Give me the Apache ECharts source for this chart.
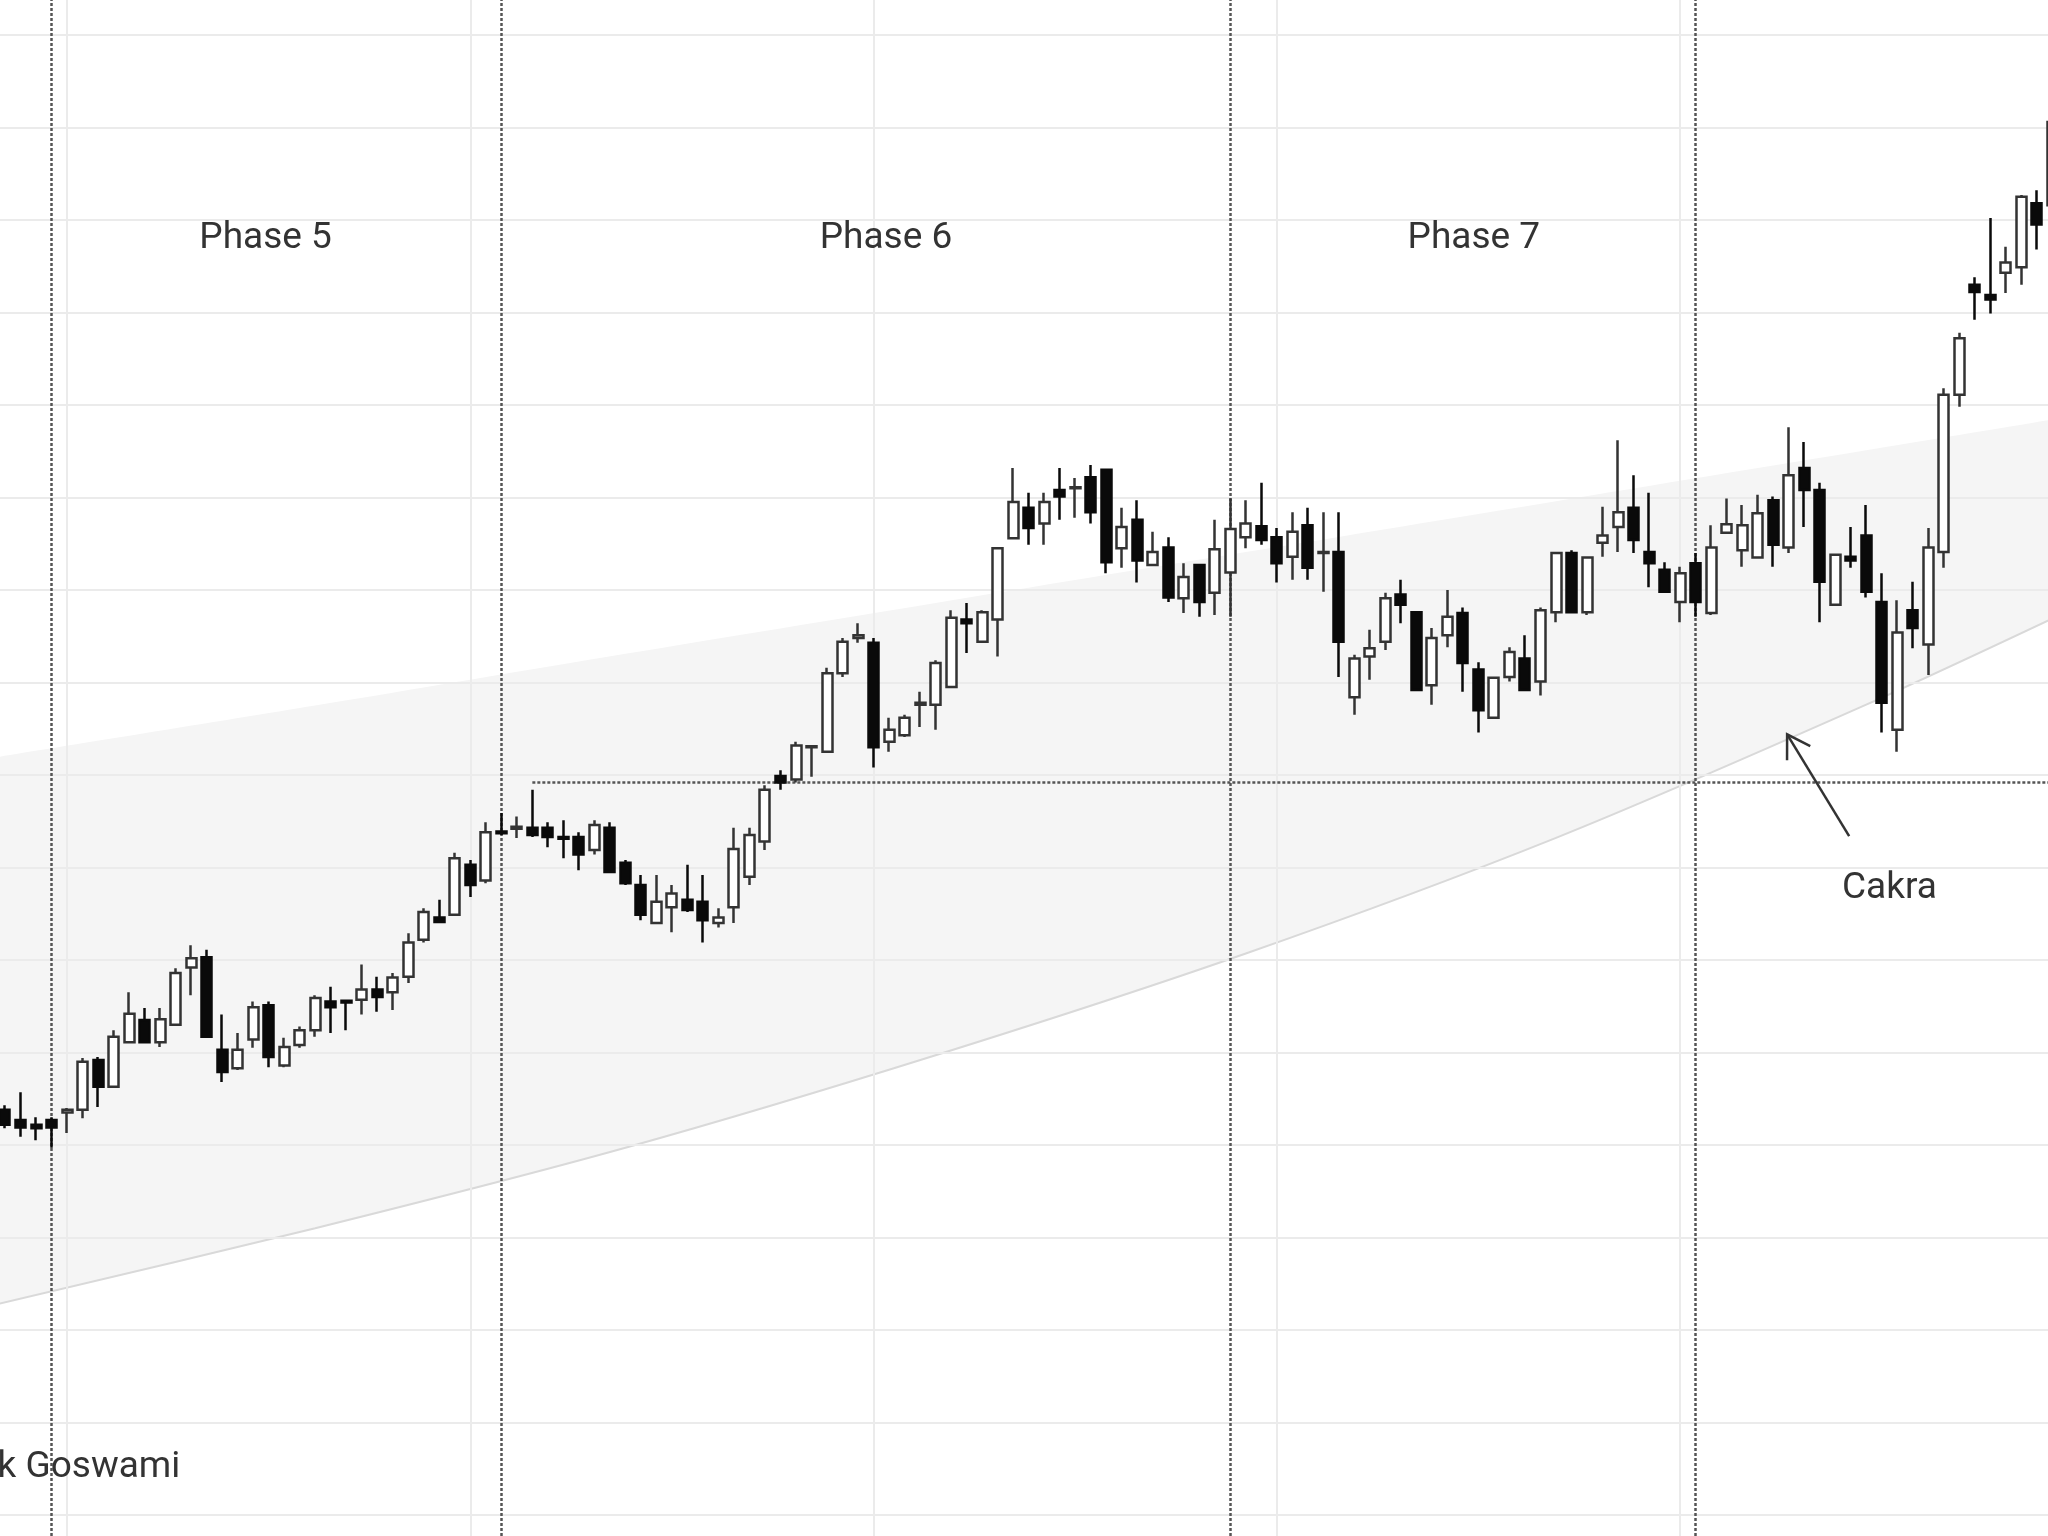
<!DOCTYPE html>
<html>
<head>
<meta charset="utf-8">
<script src="https://cdn.jsdelivr.net/npm/echarts@6/dist/echarts.min.js"></script>
<style>
html,body{margin:0;padding:0;background:#fff;}
#c{width:2048px;height:1536px;}
</style>
</head>
<body>
<div id="c"></div>
<script>
// ---- data ----
const opens = [53.8,52.7,52.2,52.7,53.5,53.8,59.2,56.3,61.1,63.5,61.1,63.0,69.2,70.3,60.3,58.3,61.4,65.1,58.6,60.8,
62.4,65.5,65.6,65.7,66.8,66.5,68.2,72.2,74.6,74.9,80.3,78.6,83.9,84.2,84.3,84.3,83.3,83.3,81.9,84.3,
80.5,78.1,74.0,75.7,76.5,76.3,74.0,75.7,79.0,82.8,89.9,89.5,93.0,92.5,101.0,104.8,104.3,93.6,94.3,97.6,
97.6,99.5,106.8,104.4,106.8,115.6,118.9,117.2,120.8,121.0,122.2,123.0,114.5,117.6,112.7,114.6,109.1,112.7,109.7,111.9,
115.7,116.9,115.7,113.6,117.0,114.0,114.1,98.4,102.8,104.4,109.5,107.6,99.7,105.1,107.5,101.4,96.2,100.6,102.6,100.1,
107.6,114.0,107.6,115.1,116.8,118.9,114.1,112.2,108.7,112.9,107.5,116.2,114.3,113.5,119.7,114.6,123.2,120.8,108.4,113.6,
115.9,108.7,94.9,107.8,104.1,114.1,131.1,143.0,141.9,144.3,144.9,151.8,151.6];
const closes = [52.2,51.9,51.8,51.9,53.8,59.0,56.3,61.7,64.2,61.1,63.6,68.6,70.2,61.7,57.9,60.3,64.9,59.5,60.6,62.4,
65.9,64.9,65.4,66.8,66.0,68.1,71.9,75.2,74.1,81.0,78.1,83.8,83.7,84.4,83.5,83.3,83.1,81.4,84.6,79.5,
78.3,74.9,76.3,77.2,75.4,74.3,74.6,82.0,83.5,88.4,89.2,93.2,93.1,101.0,104.4,105.1,93.0,94.9,96.2,97.8,
102.1,107.0,106.4,107.6,114.5,119.5,116.7,119.5,120.1,121.1,118.4,113.0,116.8,113.2,114.1,109.2,111.4,108.7,114.4,116.6,
117.2,115.4,112.9,116.3,112.4,114.1,104.4,102.6,103.7,109.1,108.4,99.2,104.8,107.1,102.1,97.0,100.5,103.3,99.2,107.8,
114.0,107.6,113.5,115.9,118.4,115.4,112.9,109.8,111.8,108.7,114.6,117.1,117.0,118.3,114.9,122.4,120.8,110.9,113.8,113.2,
109.8,97.8,105.4,105.9,114.6,131.1,137.2,142.2,141.4,145.4,152.5,149.5,160.6];
const lows = [51.8,50.9,50.5,49.7,51.3,52.9,54.1,56.2,61.0,61.0,60.6,63.0,66.2,61.6,56.8,58.1,60.5,58.4,58.4,60.5,
61.7,62.1,62.4,64.1,64.4,64.6,67.5,71.9,74.1,74.9,76.8,78.3,83.5,83.2,83.3,82.2,81.0,79.7,81.4,79.4,
78.1,74.3,74.0,73.0,75.2,71.9,73.5,74.0,78.1,81.9,88.4,89.2,89.8,92.4,100.6,104.3,90.8,92.5,94.1,95.2,
94.9,99.4,103.2,104.3,102.8,115.6,114.9,114.9,117.6,117.8,117.2,111.8,112.4,110.8,112.7,108.7,107.5,107.1,107.3,107.1,
114.5,114.9,110.8,111.1,111.1,109.8,100.6,96.5,100.3,103.5,106.4,99.2,97.6,103.8,99.0,94.6,96.2,100.1,99.2,98.6,
106.5,107.6,107.3,113.6,114.1,114.0,110.3,109.8,106.5,107.1,107.3,116.2,112.5,113.5,112.5,114.0,116.8,106.5,108.4,112.4,
109.2,94.6,92.5,103.7,100.8,112.4,129.8,139.2,139.9,142.1,143.0,146.8,149.2];
const highs = [54.3,55.7,53.0,53.0,54.0,59.4,59.5,62.4,66.5,64.8,64.8,69.1,71.6,71.1,64.1,62.1,65.5,65.5,61.6,62.8,
66.2,67.1,65.7,69.5,68.2,68.6,72.9,75.6,76.5,81.6,80.8,84.9,85.9,85.5,88.4,84.9,85.1,83.8,85.1,84.9,
80.8,79.2,79.2,78.1,80.3,79.2,75.6,84.3,84.3,88.9,90.5,93.6,93.2,101.6,104.8,106.4,104.8,96.2,96.5,99.0,
102.4,107.8,108.6,107.8,114.6,123.2,120.5,120.5,123.2,122.1,123.5,123.0,118.9,119.7,116.3,115.7,112.9,112.7,117.6,119.9,
119.7,121.6,116.7,118.4,118.9,118.4,118.4,103.0,105.7,109.7,111.1,107.6,105.9,110.0,108.1,102.2,100.5,103.8,105.1,108.1,
114.1,114.3,113.6,119.0,126.2,122.4,120.5,113.0,112.5,114.0,117.0,119.9,119.2,120.3,120.1,127.6,126.0,121.6,113.8,116.8,
119.2,111.8,108.9,110.9,116.7,131.8,137.8,143.8,150.2,147.1,152.7,153.2,161.4];

// channel (shaded band) read at a few points, x in candle index
const bandX     = [-1, 20, 40, 60, 80, 100, 120, 133];
const bandLower = [32.6, 41.0, 49.7, 59.7, 70.7, 83.2, 97.6, 107.7];
const bandUpper = [91.8, 97.5, 103.1, 108.6, 114.1, 119.6, 125.1, 128.7];

// horizontal grid rows (price ticks) and phase separators
const gridRows = [10, 20, 30, 40, 50, 60, 70, 80, 90, 100, 110, 120, 130, 140, 150, 160, 170];
const gridColumns = [4, 30, 56, 82, 108];
const phaseBreaks = [3, 32, 79, 109];
const levelStart = 34;
const levelValue = 89.2;

// annotations
const labelTexts = ['Phase 5', 'Phase 6', 'Phase 7', 'Cakra', 'k Goswami'];
const labelX = [16.8, 56.8, 94.7, 121.5, 11.3];
const labelY = [148.0, 148.0, 148.0, 77.7, 15.1];
const arrowFrom = [118.9, 83.4];
const arrowTo = [114.9, 94.4];

// ---- chart ----
const FONT = "Roboto, 'Liberation Sans', Arial, sans-serif";
const candleData = opens.map((o, i) => [i, o, closes[i], lows[i], highs[i]]);
const X_MIN = -0.322, X_MAX = 131.72;   // visible candle window
const Y_MIN = 7.73, Y_MAX = 173.78;     // visible price window

const chart = echarts.init(document.getElementById('c'), null, {renderer: 'canvas'});
chart.setOption({
  animation: false,
  backgroundColor: '#ffffff',
  grid: {left: 0, right: 0, top: 0, bottom: 0, containLabel: false, outerBoundsMode: 'none'},
  xAxis: {type: 'value', min: X_MIN, max: X_MAX,
    axisLine: {show: false}, axisTick: {show: false}, axisLabel: {show: false}, splitLine: {show: false}},
  yAxis: {type: 'value', min: Y_MIN, max: Y_MAX,
    axisLine: {show: false}, axisTick: {show: false}, axisLabel: {show: false}, splitLine: {show: false}},
  series: [
    {
      name: 'bandTop', type: 'line', z: 1, silent: true, smooth: 0.3, symbol: 'none',
      data: bandX.map((x, i) => [x, bandUpper[i]]),
      lineStyle: {width: 0, opacity: 0},
      areaStyle: {color: '#f5f5f5', opacity: 1, origin: 'start'}
    },
    {
      name: 'bandBottom', type: 'line', z: 1, silent: true, smooth: 0.3, symbol: 'none',
      data: bandX.map((x, i) => [x, bandLower[i]]),
      lineStyle: {color: '#d9d9d9', width: 2},
      areaStyle: {color: '#ffffff', opacity: 1, origin: 'start'},
      markLine: {
        silent: true, symbol: 'none', label: {show: false}, z: 5,
        lineStyle: {color: '#ebebeb', width: 2, type: 'solid'},
        data: gridRows.map(v => ({yAxis: v})).concat(gridColumns.map(c => ({xAxis: c})))
      }
    },
    {
      name: 'price', type: 'candlestick', z: 6, data: candleData, barWidth: 10.5, clip: false,
      encode: {x: 0, y: [1, 2, 3, 4]},
      itemStyle: {color: '#ffffff', color0: '#0a0a0a', borderColor: '#333333', borderColor0: '#0a0a0a', borderWidth: 2.5},
      markLine: {
        silent: true, symbol: 'none', label: {show: false}, z: 5,
        lineStyle: {color: '#555555', width: 2.5, type: [3, 2]},
        data: phaseBreaks.map(b => ({xAxis: b})).concat([
          [{coord: [levelStart, levelValue]}, {coord: [X_MAX, levelValue]}]
        ])
      }
    },
    {
      name: 'labels', type: 'custom', z: 7, silent: true,
      data: labelTexts.map((t, i) => [labelX[i], labelY[i]]),
      renderItem: (params, api) => {
        const p = api.coord([api.value(0), api.value(1)]);
        const t = labelTexts[params.dataIndex];
        return {type: 'text', style: {text: t, x: p[0], y: p[1],
          align: t === 'k Goswami' ? 'right' : 'center', verticalAlign: 'middle',
          font: '37px ' + FONT, fill: '#333'}};
      }
    },
    {
      name: 'arrow', type: 'custom', z: 7, silent: true,
      data: [[arrowFrom[0], arrowFrom[1], arrowTo[0], arrowTo[1]]],
      renderItem: (params, api) => {
        const t = api.coord([api.value(0), api.value(1)]);
        const h = api.coord([api.value(2), api.value(3)]);
        const ang = Math.atan2(t[1] - h[1], t[0] - h[0]);
        const L = 26, a = 0.55;
        const p1 = [h[0] + L * Math.cos(ang + a), h[1] + L * Math.sin(ang + a)];
        const p2 = [h[0] + L * Math.cos(ang - a), h[1] + L * Math.sin(ang - a)];
        return {type: 'group', children: [
          {type: 'line', shape: {x1: t[0], y1: t[1], x2: h[0], y2: h[1]}, style: {stroke: '#333', lineWidth: 2.5}},
          {type: 'polyline', shape: {points: [p1, h, p2]}, style: {stroke: '#333', lineWidth: 2.5, fill: null}}
        ]};
      }
    }
  ]
});
</script>
</body>
</html>
